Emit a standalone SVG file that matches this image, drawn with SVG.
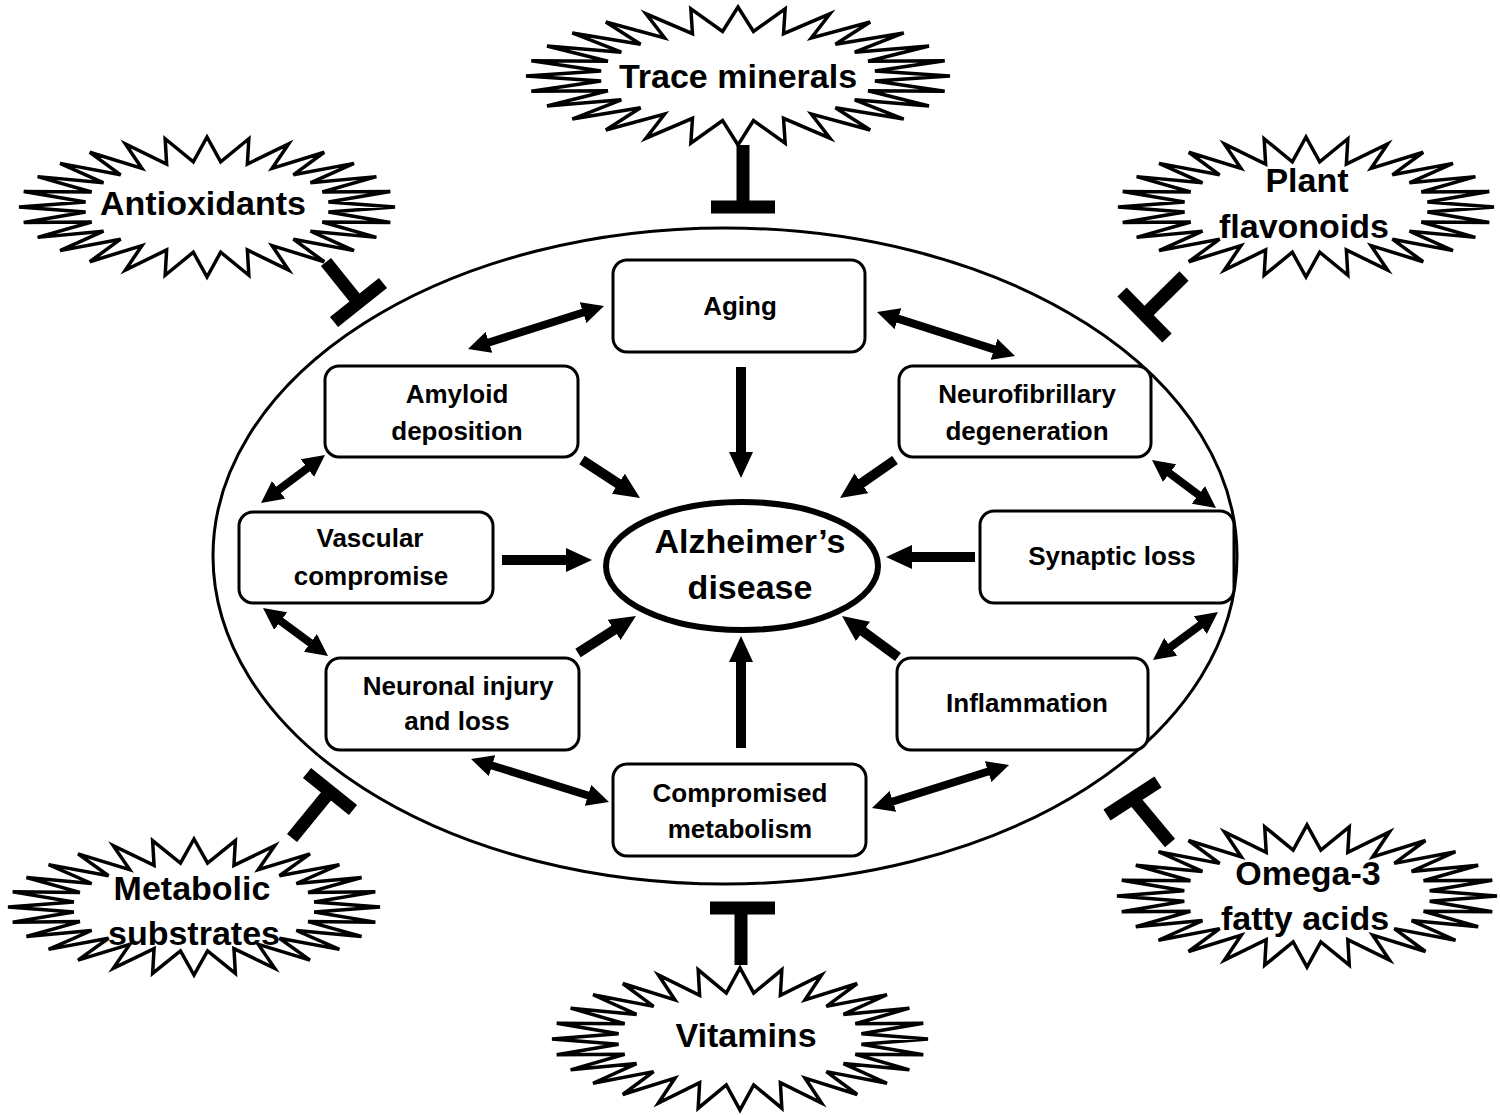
<svg xmlns="http://www.w3.org/2000/svg" xmlns:xlink="http://www.w3.org/1999/xlink" width="1500" height="1115" viewBox="0 0 1500 1115">
<style>
.box{fill:#fff;stroke:#000;stroke-width:3}
.lbl{font-family:"Liberation Sans",Arial,sans-serif;font-weight:bold;font-size:26px;text-anchor:middle;fill:#000}
.big{font-family:"Liberation Sans",Arial,sans-serif;font-weight:bold;font-size:34px;text-anchor:middle;fill:#000}
.star{fill:#fff;stroke:#000;stroke-width:3.5;stroke-linejoin:miter}
.inh{stroke:#000;stroke-width:13;fill:none;stroke-linecap:butt}
.a1{stroke:#000;stroke-width:10;fill:none;marker-end:url(#ah)}
.a2{stroke:#000;stroke-width:8;fill:none;marker-start:url(#dh);marker-end:url(#dh)}
</style>
<defs>
<path id="starShape" vector-effect="non-scaling-stroke" d="M1,0 L.6459,.0728 L.9749,.2225 L.6135,.2147 L.901,.4339 L.5504,.3459 L.7818,.6235 L.4596,.4596 L.6235,.7818 L.3459,.5504 L.4339,.901 L.2147,.6135 L.2225,.9749 L.0728,.6459 L0,1 L-.0728,.6459 L-.2225,.9749 L-.2147,.6135 L-.4339,.901 L-.3459,.5504 L-.6235,.7818 L-.4596,.4596 L-.7818,.6235 L-.5504,.3459 L-.901,.4339 L-.6135,.2147 L-.9749,.2225 L-.6459,.0728 L-1,0 L-.6459,-.0728 L-.9749,-.2225 L-.6135,-.2147 L-.901,-.4339 L-.5504,-.3459 L-.7818,-.6235 L-.4596,-.4596 L-.6235,-.7818 L-.3459,-.5504 L-.4339,-.901 L-.2147,-.6135 L-.2225,-.9749 L-.0728,-.6459 L0,-1 L.0728,-.6459 L.2225,-.9749 L.2147,-.6135 L.4339,-.901 L.3459,-.5504 L.6235,-.7818 L.4596,-.4596 L.7818,-.6235 L.5504,-.3459 L.901,-.4339 L.6135,-.2147 L.9749,-.2225 L.6459,-.0728 Z"/>
<marker id="ah" markerUnits="userSpaceOnUse" viewBox="0 0 26 24" markerWidth="26" markerHeight="24" refX="1" refY="12" orient="auto"><path d="M0,0 L26,12 L0,24 Z" fill="#000"/></marker>
<marker id="dh" markerUnits="userSpaceOnUse" viewBox="0 0 22 22" markerWidth="22" markerHeight="22" refX="1" refY="11" orient="auto-start-reverse"><path d="M0,0 L22,11 L0,22 Z" fill="#000"/></marker>
</defs>
<rect width="1500" height="1115" fill="#fff"/>

<g id="outer-ellipse"><ellipse cx="725" cy="556" rx="512" ry="328" fill="none" stroke="#000" stroke-width="3"/></g>

<g id="trace-minerals"><use href="#starShape" class="star" transform="translate(738,76) scale(212,69)"/><text class="big" x="738" y="88">Trace minerals</text></g>
<g id="antioxidants"><use href="#starShape" class="star" transform="translate(207,207) scale(188,70)"/><text class="big" x="203" y="215">Antioxidants</text></g>
<g id="plant-flavonoids"><use href="#starShape" class="star" transform="translate(1306,207) scale(188,70)"/><text class="big" x="1307" y="192">Plant</text><text class="big" x="1304" y="238">flavonoids</text></g>
<g id="metabolic-substrates"><use href="#starShape" class="star" transform="translate(194,907) scale(186,68)"/><text class="big" x="192" y="900">Metabolic</text><text class="big" x="194" y="945">substrates</text></g>
<g id="vitamins"><use href="#starShape" class="star" transform="translate(740,1039) scale(188,71)"/><text class="big" x="746" y="1047">Vitamins</text></g>
<g id="omega-3"><use href="#starShape" class="star" transform="translate(1307,896) scale(190,71)"/><text class="big" x="1308" y="885">Omega-3</text><text class="big" x="1305" y="930">fatty acids</text></g>

<g id="aging"><rect class="box" x="613" y="260" width="252" height="92" rx="14"/><text class="lbl" x="740" y="315">Aging</text></g>
<g id="amyloid-deposition"><rect class="box" x="325" y="366" width="253" height="91" rx="14"/><text class="lbl" x="457" y="403">Amyloid</text><text class="lbl" x="457" y="440">deposition</text></g>
<g id="neurofibrillary-degeneration"><rect class="box" x="899" y="366" width="252" height="91" rx="14"/><text class="lbl" x="1027" y="403">Neurofibrillary</text><text class="lbl" x="1027" y="440">degeneration</text></g>
<g id="vascular-compromise"><rect class="box" x="239" y="512" width="254" height="91" rx="14"/><text class="lbl" x="370" y="547">Vascular</text><text class="lbl" x="371" y="585">compromise</text></g>
<g id="synaptic-loss"><rect class="box" x="980" y="511" width="254" height="92" rx="14"/><text class="lbl" x="1112" y="565">Synaptic loss</text></g>
<g id="neuronal-injury"><rect class="box" x="326" y="658" width="253" height="92" rx="14"/><text class="lbl" x="458" y="695">Neuronal injury</text><text class="lbl" x="457" y="730">and loss</text></g>
<g id="inflammation"><rect class="box" x="897" y="658" width="251" height="92" rx="14"/><text class="lbl" x="1027" y="712">Inflammation</text></g>
<g id="compromised-metabolism"><rect class="box" x="613" y="764" width="253" height="92" rx="14"/><text class="lbl" x="740" y="802">Compromised</text><text class="lbl" x="740" y="838">metabolism</text></g>

<g id="alzheimers-disease"><ellipse cx="742" cy="566" rx="136" ry="64" fill="#fff" stroke="#000" stroke-width="6"/><text class="big" x="750" y="553">Alzheimer’s</text><text class="big" x="750" y="599">disease</text></g>

<g id="connectors">
<line class="inh" x1="743" y1="145" x2="743" y2="201"/><line class="inh" x1="711" y1="207" x2="775" y2="207"/>
<line class="inh" x1="326" y1="262" x2="358.5" y2="302.5"/><line class="inh" x1="334" y1="322" x2="383" y2="283"/>
<line class="inh" x1="1184" y1="276" x2="1144.5" y2="315"/><line class="inh" x1="1122" y1="292" x2="1167" y2="338"/>
<line class="inh" x1="292" y1="838" x2="330" y2="791.5"/><line class="inh" x1="307" y1="773" x2="353" y2="810"/>
<line class="inh" x1="741" y1="908" x2="741" y2="965"/><line class="inh" x1="710" y1="908" x2="775" y2="908"/>
<line class="inh" x1="1170" y1="843" x2="1132.5" y2="798"/><line class="inh" x1="1107" y1="815" x2="1158" y2="782"/>

<line class="a1" x1="741" y1="367" x2="741" y2="453"/>
<line class="a1" x1="582" y1="460" x2="619.1" y2="484.3"/>
<line class="a1" x1="895" y1="460" x2="860.6" y2="483.8"/>
<line class="a1" x1="502" y1="560" x2="567" y2="560"/>
<line class="a1" x1="578" y1="653" x2="614.9" y2="629.4"/>
<line class="a1" x1="975" y1="557" x2="911" y2="557"/>
<line class="a1" x1="898" y1="657" x2="862.2" y2="630.8"/>
<line class="a1" x1="741" y1="748" x2="741" y2="661"/>

<line class="a2" x1="488" y1="342.7" x2="584" y2="312.3"/>
<line class="a2" x1="897" y1="318.4" x2="995" y2="349.6"/>
<line class="a2" x1="277.8" y1="490.4" x2="308.2" y2="467.6"/>
<line class="a2" x1="279.9" y1="620.5" x2="311.1" y2="643.5"/>
<line class="a2" x1="1168.8" y1="472.6" x2="1199.2" y2="495.4"/>
<line class="a2" x1="1201.1" y1="624.5" x2="1169.9" y2="647.5"/>
<line class="a2" x1="491.1" y1="765.3" x2="588.9" y2="795.7"/>
<line class="a2" x1="892" y1="801.7" x2="989" y2="771.3"/>
</g>
</svg>
